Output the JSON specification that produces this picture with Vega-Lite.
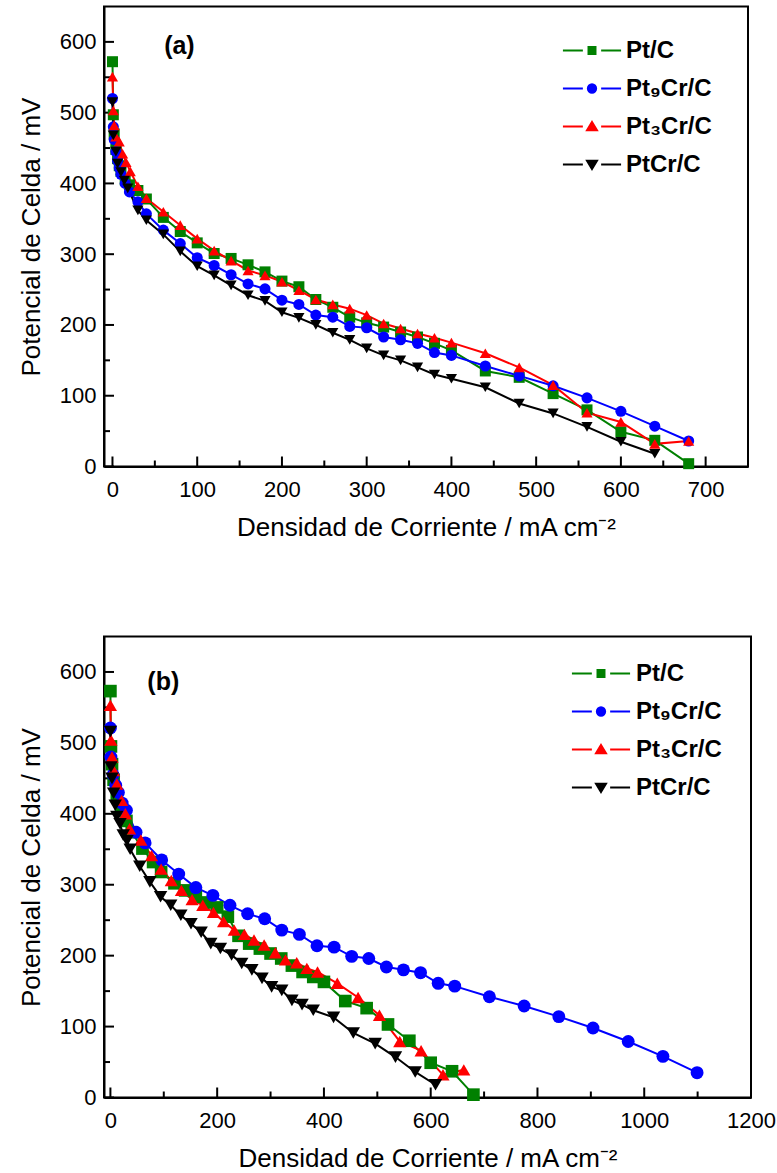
{
  "$schema": "https://vega.github.io/schema/vega-lite/v6.json",
  "background": "white",
  "padding": {"left": 17, "top": 5.5, "right": 0, "bottom": 0},
  "bounds": "flush",
  "spacing": 170,
  "config": {
    "view": {"stroke": "black", "strokeWidth": 2},
    "axis": {
      "domainColor": "black", "domainWidth": 2, "grid": false, "ticks": false, "tickSize": 0, "labelFlush": false,
      "labelFont": "Liberation Sans", "labelFontSize": 22, "labelColor": "black", "format": "d",
      "titleFont": "Liberation Sans", "titleFontSize": 26, "titleFontWeight": "normal", "titleColor": "black"
    },
    "axisX": {"labelPadding": 13, "titlePadding": 14},
    "axisY": {"labelPadding": 8, "titlePadding": 15}
  },
  "datasets": {
    "a": [
      {"series":"Pt/C","current":0,"potential":572},{"series":"Pt/C","current":1,"potential":497},{"series":"Pt/C","current":2,"potential":470},{"series":"Pt/C","current":4,"potential":448},{"series":"Pt/C","current":6,"potential":435},{"series":"Pt/C","current":8,"potential":425},{"series":"Pt/C","current":10,"potential":417},{"series":"Pt/C","current":15,"potential":405},{"series":"Pt/C","current":20,"potential":398},{"series":"Pt/C","current":30,"potential":390},{"series":"Pt/C","current":40,"potential":378},{"series":"Pt/C","current":60,"potential":352},{"series":"Pt/C","current":80,"potential":332},{"series":"Pt/C","current":100,"potential":316},{"series":"Pt/C","current":120,"potential":301},{"series":"Pt/C","current":140,"potential":294},{"series":"Pt/C","current":160,"potential":285},{"series":"Pt/C","current":180,"potential":275},{"series":"Pt/C","current":200,"potential":262},{"series":"Pt/C","current":220,"potential":254},{"series":"Pt/C","current":240,"potential":236},{"series":"Pt/C","current":260,"potential":225},{"series":"Pt/C","current":280,"potential":211},{"series":"Pt/C","current":300,"potential":203},{"series":"Pt/C","current":320,"potential":197},{"series":"Pt/C","current":340,"potential":190},{"series":"Pt/C","current":360,"potential":183},{"series":"Pt/C","current":380,"potential":174},{"series":"Pt/C","current":400,"potential":164},{"series":"Pt/C","current":440,"potential":135},{"series":"Pt/C","current":480,"potential":126},{"series":"Pt/C","current":520,"potential":103},{"series":"Pt/C","current":560,"potential":80},{"series":"Pt/C","current":600,"potential":49},{"series":"Pt/C","current":640,"potential":37},{"series":"Pt/C","current":680,"potential":4},
      {"series":"Pt₉Cr/C","current":0,"potential":520},{"series":"Pt₉Cr/C","current":1,"potential":480},{"series":"Pt₉Cr/C","current":2,"potential":462},{"series":"Pt₉Cr/C","current":4,"potential":445},{"series":"Pt₉Cr/C","current":6,"potential":432},{"series":"Pt₉Cr/C","current":8,"potential":422},{"series":"Pt₉Cr/C","current":10,"potential":413},{"series":"Pt₉Cr/C","current":15,"potential":400},{"series":"Pt₉Cr/C","current":20,"potential":388},{"series":"Pt₉Cr/C","current":30,"potential":374},{"series":"Pt₉Cr/C","current":40,"potential":357},{"series":"Pt₉Cr/C","current":60,"potential":334},{"series":"Pt₉Cr/C","current":80,"potential":315},{"series":"Pt₉Cr/C","current":100,"potential":295},{"series":"Pt₉Cr/C","current":120,"potential":284},{"series":"Pt₉Cr/C","current":140,"potential":271},{"series":"Pt₉Cr/C","current":160,"potential":258},{"series":"Pt₉Cr/C","current":180,"potential":251},{"series":"Pt₉Cr/C","current":200,"potential":235},{"series":"Pt₉Cr/C","current":220,"potential":229},{"series":"Pt₉Cr/C","current":240,"potential":214},{"series":"Pt₉Cr/C","current":260,"potential":211},{"series":"Pt₉Cr/C","current":280,"potential":198},{"series":"Pt₉Cr/C","current":300,"potential":196},{"series":"Pt₉Cr/C","current":320,"potential":183},{"series":"Pt₉Cr/C","current":340,"potential":179},{"series":"Pt₉Cr/C","current":360,"potential":174},{"series":"Pt₉Cr/C","current":380,"potential":161},{"series":"Pt₉Cr/C","current":400,"potential":157},{"series":"Pt₉Cr/C","current":440,"potential":142},{"series":"Pt₉Cr/C","current":480,"potential":128},{"series":"Pt₉Cr/C","current":520,"potential":114},{"series":"Pt₉Cr/C","current":560,"potential":97},{"series":"Pt₉Cr/C","current":600,"potential":78},{"series":"Pt₉Cr/C","current":640,"potential":57},{"series":"Pt₉Cr/C","current":680,"potential":36},
      {"series":"Pt₃Cr/C","current":0,"potential":551},{"series":"Pt₃Cr/C","current":1,"potential":503},{"series":"Pt₃Cr/C","current":2,"potential":482},{"series":"Pt₃Cr/C","current":4,"potential":466},{"series":"Pt₃Cr/C","current":8,"potential":459},{"series":"Pt₃Cr/C","current":12,"potential":442},{"series":"Pt₃Cr/C","current":16,"potential":430},{"series":"Pt₃Cr/C","current":21,"potential":417},{"series":"Pt₃Cr/C","current":30,"potential":396},{"series":"Pt₃Cr/C","current":40,"potential":379},{"series":"Pt₃Cr/C","current":60,"potential":360},{"series":"Pt₃Cr/C","current":80,"potential":341},{"series":"Pt₃Cr/C","current":100,"potential":322},{"series":"Pt₃Cr/C","current":120,"potential":305},{"series":"Pt₃Cr/C","current":140,"potential":291},{"series":"Pt₃Cr/C","current":160,"potential":277},{"series":"Pt₃Cr/C","current":180,"potential":270},{"series":"Pt₃Cr/C","current":200,"potential":261},{"series":"Pt₃Cr/C","current":220,"potential":249},{"series":"Pt₃Cr/C","current":240,"potential":236},{"series":"Pt₃Cr/C","current":260,"potential":229},{"series":"Pt₃Cr/C","current":280,"potential":223},{"series":"Pt₃Cr/C","current":300,"potential":214},{"series":"Pt₃Cr/C","current":320,"potential":202},{"series":"Pt₃Cr/C","current":340,"potential":195},{"series":"Pt₃Cr/C","current":360,"potential":188},{"series":"Pt₃Cr/C","current":380,"potential":182},{"series":"Pt₃Cr/C","current":400,"potential":175},{"series":"Pt₃Cr/C","current":440,"potential":160},{"series":"Pt₃Cr/C","current":480,"potential":140},{"series":"Pt₃Cr/C","current":520,"potential":115},{"series":"Pt₃Cr/C","current":560,"potential":76},{"series":"Pt₃Cr/C","current":600,"potential":63},{"series":"Pt₃Cr/C","current":640,"potential":32},{"series":"Pt₃Cr/C","current":680,"potential":36},
      {"series":"PtCr/C","current":0,"potential":515},{"series":"PtCr/C","current":1,"potential":468},{"series":"PtCr/C","current":4,"potential":445},{"series":"PtCr/C","current":6,"potential":428},{"series":"PtCr/C","current":10,"potential":416},{"series":"PtCr/C","current":14,"potential":404},{"series":"PtCr/C","current":18,"potential":393},{"series":"PtCr/C","current":30,"potential":362},{"series":"PtCr/C","current":40,"potential":348},{"series":"PtCr/C","current":60,"potential":328},{"series":"PtCr/C","current":80,"potential":304},{"series":"PtCr/C","current":100,"potential":283},{"series":"PtCr/C","current":120,"potential":270},{"series":"PtCr/C","current":140,"potential":256},{"series":"PtCr/C","current":160,"potential":242},{"series":"PtCr/C","current":180,"potential":234},{"series":"PtCr/C","current":200,"potential":218},{"series":"PtCr/C","current":220,"potential":210},{"series":"PtCr/C","current":240,"potential":200},{"series":"PtCr/C","current":260,"potential":189},{"series":"PtCr/C","current":280,"potential":179},{"series":"PtCr/C","current":300,"potential":167},{"series":"PtCr/C","current":320,"potential":157},{"series":"PtCr/C","current":340,"potential":150},{"series":"PtCr/C","current":360,"potential":140},{"series":"PtCr/C","current":380,"potential":130},{"series":"PtCr/C","current":400,"potential":124},{"series":"PtCr/C","current":440,"potential":112},{"series":"PtCr/C","current":480,"potential":89},{"series":"PtCr/C","current":520,"potential":75},{"series":"PtCr/C","current":560,"potential":56},{"series":"PtCr/C","current":600,"potential":35},{"series":"PtCr/C","current":640,"potential":18}
    ],
    "b": [
      {"series":"Pt/C","current":0,"potential":573},{"series":"Pt/C","current":1,"potential":495},{"series":"Pt/C","current":3,"potential":470},{"series":"Pt/C","current":6,"potential":448},{"series":"Pt/C","current":12,"potential":425},{"series":"Pt/C","current":20,"potential":405},{"series":"Pt/C","current":30,"potential":390},{"series":"Pt/C","current":40,"potential":374},{"series":"Pt/C","current":60,"potential":351},{"series":"Pt/C","current":80,"potential":332},{"series":"Pt/C","current":95,"potential":318},{"series":"Pt/C","current":120,"potential":302},{"series":"Pt/C","current":140,"potential":292},{"series":"Pt/C","current":160,"potential":283},{"series":"Pt/C","current":180,"potential":275},{"series":"Pt/C","current":200,"potential":268},{"series":"Pt/C","current":220,"potential":255},{"series":"Pt/C","current":240,"potential":228},{"series":"Pt/C","current":260,"potential":217},{"series":"Pt/C","current":280,"potential":210},{"series":"Pt/C","current":300,"potential":203},{"series":"Pt/C","current":320,"potential":196},{"series":"Pt/C","current":340,"potential":186},{"series":"Pt/C","current":360,"potential":177},{"series":"Pt/C","current":380,"potential":170},{"series":"Pt/C","current":400,"potential":163},{"series":"Pt/C","current":440,"potential":136},{"series":"Pt/C","current":480,"potential":126},{"series":"Pt/C","current":520,"potential":103},{"series":"Pt/C","current":560,"potential":80},{"series":"Pt/C","current":600,"potential":49},{"series":"Pt/C","current":640,"potential":37},{"series":"Pt/C","current":680,"potential":4},
      {"series":"Pt₉Cr/C","current":0,"potential":521},{"series":"Pt₉Cr/C","current":1,"potential":480},{"series":"Pt₉Cr/C","current":5,"potential":455},{"series":"Pt₉Cr/C","current":10,"potential":440},{"series":"Pt₉Cr/C","current":15,"potential":430},{"series":"Pt₉Cr/C","current":22,"potential":415},{"series":"Pt₉Cr/C","current":30,"potential":405},{"series":"Pt₉Cr/C","current":48,"potential":374},{"series":"Pt₉Cr/C","current":65,"potential":359},{"series":"Pt₉Cr/C","current":96,"potential":335},{"series":"Pt₉Cr/C","current":128,"potential":315},{"series":"Pt₉Cr/C","current":160,"potential":296},{"series":"Pt₉Cr/C","current":192,"potential":285},{"series":"Pt₉Cr/C","current":224,"potential":271},{"series":"Pt₉Cr/C","current":257,"potential":259},{"series":"Pt₉Cr/C","current":289,"potential":252},{"series":"Pt₉Cr/C","current":321,"potential":236},{"series":"Pt₉Cr/C","current":354,"potential":230},{"series":"Pt₉Cr/C","current":387,"potential":214},{"series":"Pt₉Cr/C","current":419,"potential":212},{"series":"Pt₉Cr/C","current":452,"potential":199},{"series":"Pt₉Cr/C","current":484,"potential":196},{"series":"Pt₉Cr/C","current":517,"potential":184},{"series":"Pt₉Cr/C","current":549,"potential":180},{"series":"Pt₉Cr/C","current":581,"potential":176},{"series":"Pt₉Cr/C","current":614,"potential":161},{"series":"Pt₉Cr/C","current":645,"potential":157},{"series":"Pt₉Cr/C","current":710,"potential":142},{"series":"Pt₉Cr/C","current":775,"potential":129},{"series":"Pt₉Cr/C","current":840,"potential":114},{"series":"Pt₉Cr/C","current":904,"potential":98},{"series":"Pt₉Cr/C","current":970,"potential":79},{"series":"Pt₉Cr/C","current":1035,"potential":58},{"series":"Pt₉Cr/C","current":1099,"potential":35},
      {"series":"Pt₃Cr/C","current":0,"potential":553},{"series":"Pt₃Cr/C","current":1,"potential":504},{"series":"Pt₃Cr/C","current":3,"potential":480},{"series":"Pt₃Cr/C","current":6,"potential":461},{"series":"Pt₃Cr/C","current":12,"potential":442},{"series":"Pt₃Cr/C","current":21,"potential":419},{"series":"Pt₃Cr/C","current":28,"potential":400},{"series":"Pt₃Cr/C","current":36,"potential":379},{"series":"Pt₃Cr/C","current":57,"potential":363},{"series":"Pt₃Cr/C","current":77,"potential":341},{"series":"Pt₃Cr/C","current":95,"potential":322},{"series":"Pt₃Cr/C","current":114,"potential":306},{"series":"Pt₃Cr/C","current":133,"potential":292},{"series":"Pt₃Cr/C","current":153,"potential":279},{"series":"Pt₃Cr/C","current":173,"potential":271},{"series":"Pt₃Cr/C","current":193,"potential":261},{"series":"Pt₃Cr/C","current":212,"potential":248},{"series":"Pt₃Cr/C","current":232,"potential":236},{"series":"Pt₃Cr/C","current":251,"potential":230},{"series":"Pt₃Cr/C","current":269,"potential":222},{"series":"Pt₃Cr/C","current":288,"potential":215},{"series":"Pt₃Cr/C","current":309,"potential":204},{"series":"Pt₃Cr/C","current":328,"potential":194},{"series":"Pt₃Cr/C","current":349,"potential":190},{"series":"Pt₃Cr/C","current":368,"potential":182},{"series":"Pt₃Cr/C","current":388,"potential":177},{"series":"Pt₃Cr/C","current":425,"potential":161},{"series":"Pt₃Cr/C","current":464,"potential":141},{"series":"Pt₃Cr/C","current":504,"potential":116},{"series":"Pt₃Cr/C","current":542,"potential":79},{"series":"Pt₃Cr/C","current":582,"potential":66},{"series":"Pt₃Cr/C","current":623,"potential":32},{"series":"Pt₃Cr/C","current":662,"potential":39},
      {"series":"PtCr/C","current":0,"potential":516},{"series":"PtCr/C","current":1,"potential":466},{"series":"PtCr/C","current":3,"potential":450},{"series":"PtCr/C","current":6,"potential":429},{"series":"PtCr/C","current":9,"potential":412},{"series":"PtCr/C","current":12,"potential":396},{"series":"PtCr/C","current":18,"potential":386},{"series":"PtCr/C","current":24,"potential":370},{"series":"PtCr/C","current":31,"potential":362},{"series":"PtCr/C","current":37,"potential":350},{"series":"PtCr/C","current":55,"potential":326},{"series":"PtCr/C","current":74,"potential":304},{"series":"PtCr/C","current":94,"potential":283},{"series":"PtCr/C","current":113,"potential":271},{"series":"PtCr/C","current":132,"potential":257},{"series":"PtCr/C","current":151,"potential":245},{"series":"PtCr/C","current":170,"potential":233},{"series":"PtCr/C","current":188,"potential":217},{"series":"PtCr/C","current":206,"potential":210},{"series":"PtCr/C","current":227,"potential":201},{"series":"PtCr/C","current":246,"potential":189},{"series":"PtCr/C","current":265,"potential":180},{"series":"PtCr/C","current":284,"potential":168},{"series":"PtCr/C","current":302,"potential":156},{"series":"PtCr/C","current":321,"potential":151},{"series":"PtCr/C","current":340,"potential":137},{"series":"PtCr/C","current":359,"potential":131},{"series":"PtCr/C","current":380,"potential":123},{"series":"PtCr/C","current":418,"potential":113},{"series":"PtCr/C","current":455,"potential":91},{"series":"PtCr/C","current":496,"potential":76},{"series":"PtCr/C","current":534,"potential":57},{"series":"PtCr/C","current":571,"potential":36},{"series":"PtCr/C","current":609,"potential":18}
    ],
    "yticks": [
      {"value":0,"kind":"major"},{"value":50,"kind":"minor"},{"value":100,"kind":"major"},{"value":150,"kind":"minor"},{"value":200,"kind":"major"},{"value":250,"kind":"minor"},{"value":300,"kind":"major"},{"value":350,"kind":"minor"},{"value":400,"kind":"major"},{"value":450,"kind":"minor"},{"value":500,"kind":"major"},{"value":550,"kind":"minor"},{"value":600,"kind":"major"}
    ],
    "xticksA": [
      {"value":0,"kind":"major"},{"value":50,"kind":"minor"},{"value":100,"kind":"major"},{"value":150,"kind":"minor"},{"value":200,"kind":"major"},{"value":250,"kind":"minor"},{"value":300,"kind":"major"},{"value":350,"kind":"minor"},{"value":400,"kind":"major"},{"value":450,"kind":"minor"},{"value":500,"kind":"major"},{"value":550,"kind":"minor"},{"value":600,"kind":"major"},{"value":650,"kind":"minor"},{"value":700,"kind":"major"}
    ],
    "xticksB": [
      {"value":0,"kind":"major"},{"value":100,"kind":"minor"},{"value":200,"kind":"major"},{"value":300,"kind":"minor"},{"value":400,"kind":"major"},{"value":500,"kind":"minor"},{"value":600,"kind":"major"},{"value":700,"kind":"minor"},{"value":800,"kind":"major"},{"value":900,"kind":"minor"},{"value":1000,"kind":"major"},{"value":1100,"kind":"minor"},{"value":1200,"kind":"major"}
    ]
  },
  "vconcat": [
    {
      "width": 644,
      "height": 460,
      "layer": [
        {
          "data": {"name": "a"},
          "mark": {"type": "line", "strokeWidth": 2},
          "encoding": {
            "x": {"field": "current", "type": "quantitative", "scale": {"domain": [-10, 750], "nice": false, "zero": false},
              "axis": {"title": "Densidad de Corriente / mA cm⁻²", "values": [0,100,200,300,400,500,600,700]}},
            "y": {"field": "potential", "type": "quantitative", "scale": {"domain": [0, 650], "nice": false, "zero": false},
              "axis": {"title": "Potencial de Celda / mV", "values": [0,100,200,300,400,500,600]}},
            "color": {"field": "series", "type": "nominal", "scale": {"domain": ["Pt/C","Pt₉Cr/C","Pt₃Cr/C","PtCr/C"], "range": ["#008000","#0000ff","#ff0000","#000000"]}, "legend": null}
          }
        },
        {
          "data": {"name": "xticksA"},
          "mark": {"type": "point", "filled": false, "strokeWidth": 2, "color": "black", "opacity": 1},
          "encoding": {
            "x": {"field": "value", "type": "quantitative"},
            "y": {"datum": 0},
            "shape": {"value": "M0,0L0,-1"},
            "size": {"field": "kind", "type": "nominal", "scale": {"domain": ["major","minor"], "range": [400,144]}, "legend": null}
          }
        },
        {
          "data": {"name": "yticks"},
          "mark": {"type": "point", "filled": false, "strokeWidth": 2, "color": "black", "opacity": 1},
          "encoding": {
            "y": {"field": "value", "type": "quantitative"},
            "x": {"datum": -10},
            "shape": {"value": "M0,0L1,0"},
            "size": {"field": "kind", "type": "nominal", "scale": {"domain": ["major","minor"], "range": [400,144]}, "legend": null}
          }
        },
        {
          "data": {"name": "a"},
          "mark": {"type": "point", "filled": true, "opacity": 1},
          "encoding": {
            "x": {"field": "current", "type": "quantitative"},
            "y": {"field": "potential", "type": "quantitative"},
            "color": {"field": "series", "type": "nominal", "scale": {"domain": ["Pt/C","Pt₉Cr/C","Pt₃Cr/C","PtCr/C"], "range": ["#008000","#0000ff","#ff0000","#000000"]}, "legend": null},
            "shape": {"field": "series", "type": "nominal", "scale": {"domain": ["Pt/C","Pt₉Cr/C","Pt₃Cr/C","PtCr/C"], "range": ["square","circle","triangle-up","triangle-down"]}, "legend": null},
            "size": {"field": "series", "type": "nominal", "scale": {"domain": ["Pt/C","Pt₉Cr/C","Pt₃Cr/C","PtCr/C"], "range": [121,125,220,220]}, "legend": null}
          }
        },
        {
          "data": {"name": "a"},
          "transform": [{"filter": "false"}],
          "mark": {"type": "point", "filled": true, "opacity": 1, "strokeWidth": 2},
          "encoding": {
            "fill": {"field": "series", "type": "nominal", "scale": {"domain": ["Pt/C","Pt₉Cr/C","Pt₃Cr/C","PtCr/C"], "range": ["#008000","#0000ff","#ff0000","#000000"]},
              "legend": {"orient": "none", "legendX": 476, "legendY": 32, "title": null, "padding": 0, "symbolSize": 276, "symbolStrokeWidth": 2, "labelFont": "Liberation Sans", "labelFontSize": 24, "labelFontWeight": "bold", "labelOffset": 22, "rowPadding": 14,
                "encode": {"labels": {"update": {"fill": {"signal": "datum.value === 'Pt/C' ? '#008000' : datum.value === 'PtCr/C' ? '#000000' : indexOf(datum.value, '₉') >= 0 ? '#0000ff' : '#ff0000'"}}}}}},
            "stroke": {"field": "series", "type": "nominal", "scale": {"domain": ["Pt/C","Pt₉Cr/C","Pt₃Cr/C","PtCr/C"], "range": ["#008000","#0000ff","#ff0000","#000000"]},
              "legend": {"orient": "none", "legendX": 476, "legendY": 32, "title": null, "padding": 0, "symbolSize": 276, "symbolStrokeWidth": 2, "labelFont": "Liberation Sans", "labelFontSize": 24, "labelFontWeight": "bold", "labelOffset": 22, "rowPadding": 14,
                "encode": {"labels": {"update": {"fill": {"signal": "datum.value === 'Pt/C' ? '#008000' : datum.value === 'PtCr/C' ? '#000000' : indexOf(datum.value, '₉') >= 0 ? '#0000ff' : '#ff0000'"}}}}}},
            "shape": {"field": "series", "type": "nominal", "scale": {"domain": ["Pt/C","Pt₉Cr/C","Pt₃Cr/C","PtCr/C"], "range": ["M-3.5,0H-1.1M1.1,0H3.5M-0.42,-0.42H0.42V0.42H-0.42Z","M-3.5,0H-1.1M1.1,0H3.5M0.5,0A0.5,0.5,0,1,1,-0.5,0A0.5,0.5,0,1,1,0.5,0Z","M-3.5,0H-1.1M1.1,0H3.5M0,-0.55L0.6,0.45L-0.6,0.45Z","M-3.5,0H-1.1M1.1,0H3.5M0,0.55L0.6,-0.45L-0.6,-0.45Z"]},
              "legend": {"orient": "none", "legendX": 476, "legendY": 32, "title": null, "padding": 0, "symbolSize": 276, "symbolStrokeWidth": 2, "labelFont": "Liberation Sans", "labelFontSize": 24, "labelFontWeight": "bold", "labelOffset": 22, "rowPadding": 14,
                "encode": {"labels": {"update": {"fill": {"signal": "datum.value === 'Pt/C' ? '#008000' : datum.value === 'PtCr/C' ? '#000000' : indexOf(datum.value, '₉') >= 0 ? '#0000ff' : '#ff0000'"}}}}}}
          }
        },
        {
          "data": {"values": [{"current": 79, "potential": 594, "label": "(a)"}]},
          "mark": {"type": "text", "font": "Liberation Sans", "fontSize": 25, "fontWeight": "bold", "color": "black"},
          "encoding": {
            "x": {"field": "current", "type": "quantitative"},
            "y": {"field": "potential", "type": "quantitative"},
            "text": {"field": "label"}
          }
        }
      ],
      "resolve": {"scale": {"color": "independent", "fill": "independent", "stroke": "independent", "shape": "independent", "size": "independent"}, "legend": {"color": "independent", "fill": "independent", "stroke": "independent", "shape": "independent", "size": "independent"}}
    },
    {
      "width": 647,
      "height": 461,
      "layer": [
        {
          "data": {"name": "b"},
          "mark": {"type": "line", "strokeWidth": 2},
          "encoding": {
            "x": {"field": "current", "type": "quantitative", "scale": {"domain": [-12, 1200], "nice": false, "zero": false},
              "axis": {"title": "Densidad de Corriente / mA cm⁻²", "values": [0,200,400,600,800,1000,1200]}},
            "y": {"field": "potential", "type": "quantitative", "scale": {"domain": [0, 650], "nice": false, "zero": false},
              "axis": {"title": "Potencial de Celda / mV", "values": [0,100,200,300,400,500,600]}},
            "color": {"field": "series", "type": "nominal", "scale": {"domain": ["Pt/C","Pt₉Cr/C","Pt₃Cr/C","PtCr/C"], "range": ["#008000","#0000ff","#ff0000","#000000"]}, "legend": null}
          }
        },
        {
          "data": {"name": "xticksB"},
          "mark": {"type": "point", "filled": false, "strokeWidth": 2, "color": "black", "opacity": 1},
          "encoding": {
            "x": {"field": "value", "type": "quantitative"},
            "y": {"datum": 0},
            "shape": {"value": "M0,0L0,-1"},
            "size": {"field": "kind", "type": "nominal", "scale": {"domain": ["major","minor"], "range": [400,144]}, "legend": null}
          }
        },
        {
          "data": {"name": "yticks"},
          "mark": {"type": "point", "filled": false, "strokeWidth": 2, "color": "black", "opacity": 1},
          "encoding": {
            "y": {"field": "value", "type": "quantitative"},
            "x": {"datum": -12},
            "shape": {"value": "M0,0L1,0"},
            "size": {"field": "kind", "type": "nominal", "scale": {"domain": ["major","minor"], "range": [400,144]}, "legend": null}
          }
        },
        {
          "data": {"name": "b"},
          "mark": {"type": "point", "filled": true, "opacity": 1},
          "encoding": {
            "x": {"field": "current", "type": "quantitative"},
            "y": {"field": "potential", "type": "quantitative"},
            "color": {"field": "series", "type": "nominal", "scale": {"domain": ["Pt/C","Pt₉Cr/C","Pt₃Cr/C","PtCr/C"], "range": ["#008000","#0000ff","#ff0000","#000000"]}, "legend": null},
            "shape": {"field": "series", "type": "nominal", "scale": {"domain": ["Pt/C","Pt₉Cr/C","Pt₃Cr/C","PtCr/C"], "range": ["square","circle","triangle-up","triangle-down"]}, "legend": null},
            "size": {"field": "series", "type": "nominal", "scale": {"domain": ["Pt/C","Pt₉Cr/C","Pt₃Cr/C","PtCr/C"], "range": [160,180,280,280]}, "legend": null}
          }
        },
        {
          "data": {"name": "b"},
          "transform": [{"filter": "false"}],
          "mark": {"type": "point", "filled": true, "opacity": 1, "strokeWidth": 2},
          "encoding": {
            "fill": {"field": "series", "type": "nominal", "scale": {"domain": ["Pt/C","Pt₉Cr/C","Pt₃Cr/C","PtCr/C"], "range": ["#008000","#0000ff","#ff0000","#000000"]},
              "legend": {"orient": "none", "legendX": 485, "legendY": 25, "title": null, "padding": 0, "symbolSize": 276, "symbolStrokeWidth": 2, "labelFont": "Liberation Sans", "labelFontSize": 24, "labelFontWeight": "bold", "labelOffset": 23, "rowPadding": 14,
                "encode": {"labels": {"update": {"fill": {"signal": "datum.value === 'Pt/C' ? '#008000' : datum.value === 'PtCr/C' ? '#000000' : indexOf(datum.value, '₉') >= 0 ? '#0000ff' : '#ff0000'"}}}}}},
            "stroke": {"field": "series", "type": "nominal", "scale": {"domain": ["Pt/C","Pt₉Cr/C","Pt₃Cr/C","PtCr/C"], "range": ["#008000","#0000ff","#ff0000","#000000"]},
              "legend": {"orient": "none", "legendX": 485, "legendY": 25, "title": null, "padding": 0, "symbolSize": 276, "symbolStrokeWidth": 2, "labelFont": "Liberation Sans", "labelFontSize": 24, "labelFontWeight": "bold", "labelOffset": 23, "rowPadding": 14,
                "encode": {"labels": {"update": {"fill": {"signal": "datum.value === 'Pt/C' ? '#008000' : datum.value === 'PtCr/C' ? '#000000' : indexOf(datum.value, '₉') >= 0 ? '#0000ff' : '#ff0000'"}}}}}},
            "shape": {"field": "series", "type": "nominal", "scale": {"domain": ["Pt/C","Pt₉Cr/C","Pt₃Cr/C","PtCr/C"], "range": ["M-3.5,0H-1.1M1.1,0H3.5M-0.42,-0.42H0.42V0.42H-0.42Z","M-3.5,0H-1.1M1.1,0H3.5M0.5,0A0.5,0.5,0,1,1,-0.5,0A0.5,0.5,0,1,1,0.5,0Z","M-3.5,0H-1.1M1.1,0H3.5M0,-0.55L0.6,0.45L-0.6,0.45Z","M-3.5,0H-1.1M1.1,0H3.5M0,0.55L0.6,-0.45L-0.6,-0.45Z"]},
              "legend": {"orient": "none", "legendX": 485, "legendY": 25, "title": null, "padding": 0, "symbolSize": 276, "symbolStrokeWidth": 2, "labelFont": "Liberation Sans", "labelFontSize": 24, "labelFontWeight": "bold", "labelOffset": 23, "rowPadding": 14,
                "encode": {"labels": {"update": {"fill": {"signal": "datum.value === 'Pt/C' ? '#008000' : datum.value === 'PtCr/C' ? '#000000' : indexOf(datum.value, '₉') >= 0 ? '#0000ff' : '#ff0000'"}}}}}}
          }
        },
        {
          "data": {"values": [{"current": 99, "potential": 586, "label": "(b)"}]},
          "mark": {"type": "text", "font": "Liberation Sans", "fontSize": 25, "fontWeight": "bold", "color": "black"},
          "encoding": {
            "x": {"field": "current", "type": "quantitative"},
            "y": {"field": "potential", "type": "quantitative"},
            "text": {"field": "label"}
          }
        }
      ],
      "resolve": {"scale": {"color": "independent", "fill": "independent", "stroke": "independent", "shape": "independent", "size": "independent"}, "legend": {"color": "independent", "fill": "independent", "stroke": "independent", "shape": "independent", "size": "independent"}}
    }
  ]
}
